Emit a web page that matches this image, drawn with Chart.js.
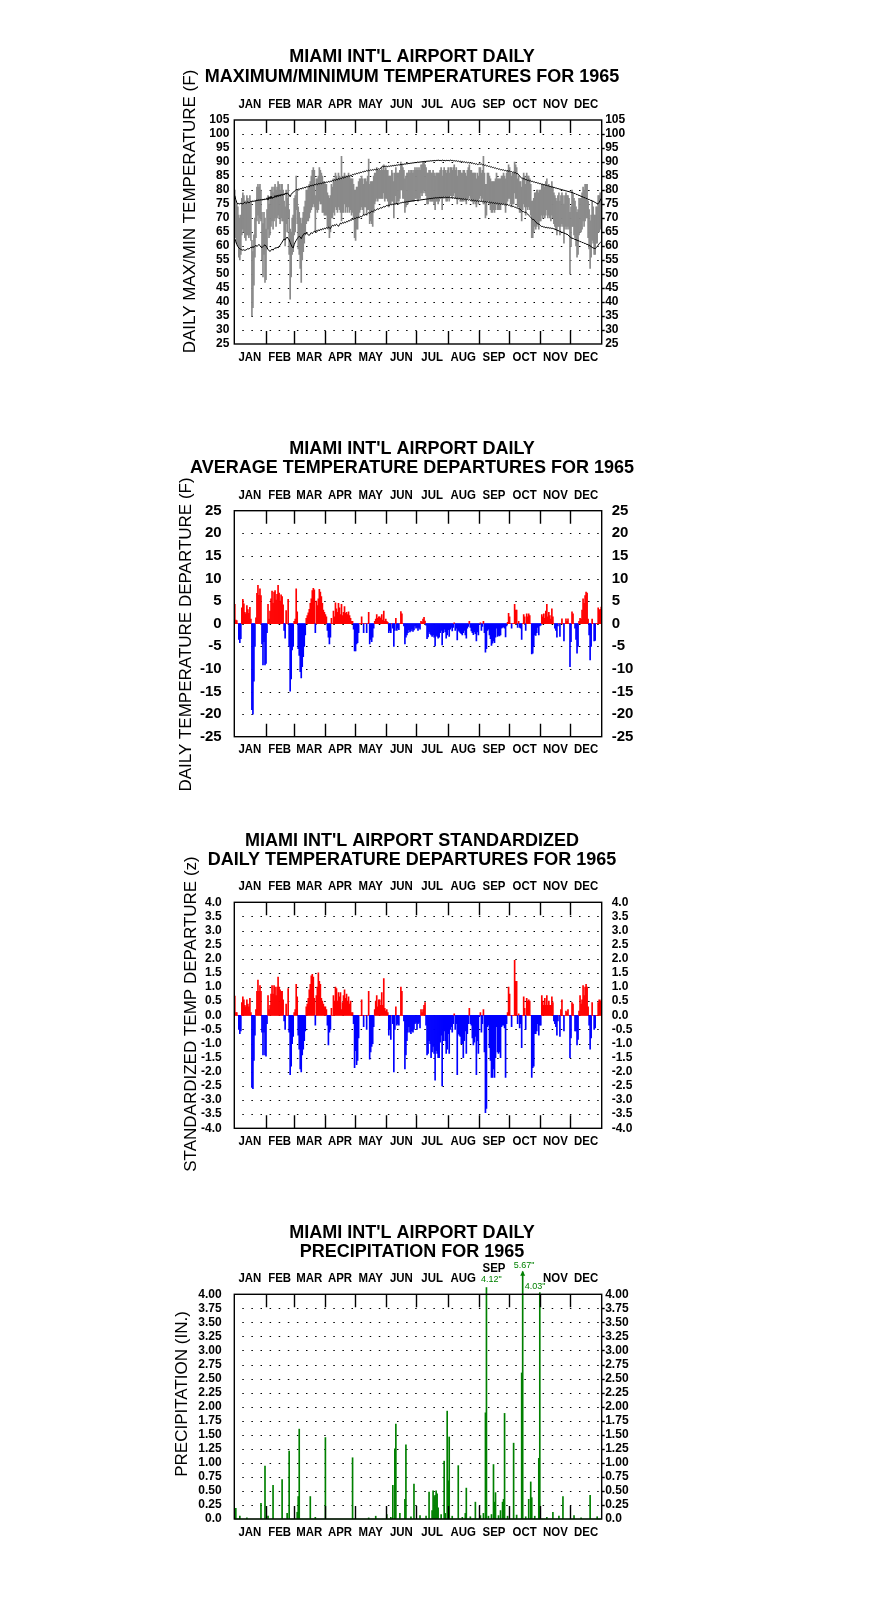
<!DOCTYPE html>
<html lang="en">
<head>
<meta charset="UTF-8">
<title>Miami Int'l Airport 1965</title>
<script src="https://cdn.jsdelivr.net/npm/chart.js"></script>
<style>
  body { margin: 0; background: #fff; }
  canvas { position: absolute; left: 0; }
</style>
</head>
<body>
<canvas id="c1" width="876" height="400" style="top:0px"></canvas>
<canvas id="c2" width="876" height="400" style="top:400px"></canvas>
<canvas id="c3" width="876" height="400" style="top:800px"></canvas>
<canvas id="c4" width="876" height="406" style="top:1200px"></canvas>

<script>
// ---- categories ----
const MONTHS = ['JAN','FEB','MAR','APR','MAY','JUN','JUL','AUG','SEP','OCT','NOV','DEC'];
const MONTH_START = [0,31,59,90,120,151,181,212,243,273,304,334,365];

// ---- daily max / min (F), one line per month ----
const tMax = [
  80,76,75,74,71,70,71,77,79,78,76,76,78,77,76,78,76,62,58,64,70,76,81,82,81,82,80,72,68,72,70,
  66,73,78,75,77,80,81,79,81,82,80,81,83,82,80,82,82,80,76,74,80,77,82,73,66,65,70,71,
  77,78,85,80,74,72,70,68,70,72,74,76,80,80,81,82,83,85,87,88,87,78,84,84,85,88,87,86,85,83,83,
  82,82,79,78,77,78,82,81,84,83,86,85,84,86,85,84,92,84,85,86,85,85,85,86,85,84,84,84,82,80,
  80,81,81,83,84,84,85,84,82,84,84,83,85,91,82,83,83,83,85,86,86,88,87,87,87,87,88,87,89,87,88,
  87,87,85,85,85,87,86,83,86,88,86,86,86,87,90,89,88,87,84,85,86,86,87,86,87,87,86,87,88,87,
  88,87,88,87,89,89,90,90,89,88,86,86,87,87,86,86,87,86,85,86,86,86,86,87,88,85,87,88,87,86,87,
  88,86,88,88,87,88,89,87,88,85,87,87,87,86,86,87,87,86,85,87,88,89,87,87,86,86,86,86,84,86,85,
  88,88,86,87,92,86,82,82,86,86,85,84,83,83,83,83,84,86,84,84,84,84,85,85,86,85,84,86,87,89,
  88,86,85,86,86,90,89,88,84,85,83,83,81,84,86,85,82,86,85,85,84,82,76,76,77,79,79,80,80,79,80,
  80,82,82,82,81,83,84,81,82,81,81,83,81,79,78,77,76,78,79,76,78,79,78,75,78,79,78,78,77,72,
  74,80,79,77,76,74,72,73,77,77,77,79,81,80,82,82,82,76,73,69,71,76,74,71,71,74,74,78,78,79,79
];
const tMin = [
  68,63,61,60,56,55,57,64,66,65,63,62,64,64,63,64,62,35,38,46,56,63,69,71,68,70,69,55,49,57,47,
  48,59,66,63,64,67,69,66,69,70,67,70,71,70,68,70,69,69,62,60,68,65,70,57,41,49,57,58,
  64,65,73,68,59,57,52,47,55,58,61,64,68,69,69,70,72,73,74,75,74,65,73,72,73,76,75,75,72,72,71,
  71,71,67,66,63,65,70,70,72,71,74,73,72,74,73,72,69,72,72,75,72,74,72,74,72,73,71,72,70,63,
  62,66,66,70,72,73,74,73,71,74,74,71,73,73,68,69,68,67,72,75,76,77,76,77,77,77,77,77,79,76,77,
  77,76,74,75,75,76,76,70,75,78,75,76,76,77,80,80,77,77,72,74,75,75,76,76,76,76,76,76,77,77,
  77,76,77,77,79,78,79,80,79,78,75,75,77,76,76,76,76,75,73,76,76,75,76,77,77,73,77,78,77,76,76,
  77,76,78,78,77,78,79,77,77,75,77,77,76,76,76,76,77,76,75,77,77,78,77,76,76,75,76,75,74,76,75,
  77,78,76,77,75,75,70,71,76,76,75,73,72,72,73,72,73,75,73,73,73,73,75,75,75,75,72,75,76,77,
  77,75,74,75,75,79,77,77,74,74,72,72,69,73,75,74,71,74,73,74,73,71,63,63,65,67,66,67,68,66,69,
  69,71,70,71,70,71,73,70,71,70,69,71,70,68,67,66,64,67,67,64,67,68,67,61,66,67,66,67,66,50,
  60,67,67,64,63,60,56,57,64,65,65,66,69,67,69,70,70,63,59,52,56,62,61,57,57,61,61,65,65,66,67
];

// ---- normal max / min (F) ----
const normMax = [
  78,76.5,75.5,75,75.2,75,75.3,75.1,75,75.4,75.6,75.2,75.5,75.8,75.4,75.6,76,75.7,76.2,75.8,76.3,76,76.5,76.1,76.6,76.2,76.7,76.3,76.8,76.4,76.9,
  76.5,77.2,76.4,77.6,76.8,77.8,76.9,77.5,77.2,78,77.4,78.2,77.6,78.3,77.8,78.5,78,78.6,78.2,78.9,78.5,79,78.6,78.2,77.6,78.4,78.9,79.2,
  79.4,79.8,80.2,80,80.4,80.1,80.6,80.3,80.8,80.5,81,80.7,81.2,81,81.4,81.1,81.6,81.4,81.8,81.5,82,81.8,82.2,81.9,82.3,82.1,82.5,82.2,82.6,82.4,82.8,
  82.5,82.9,82.7,83.1,82.8,83.2,83,83.5,83.2,83.7,83.4,83.9,83.6,84.1,83.8,84.3,84,84.5,84.2,84.7,84.5,84.9,84.7,85.1,84.9,85.3,85.2,85.6,85.4,85.8,
  85.6,86,85.8,86.2,86,86.4,86.2,86.6,86.4,86.8,86.6,87,86.8,87.1,86.9,87.2,87,87.3,87.1,87.4,87.2,87.5,87.3,87.6,87.4,87.8,88.3,88.5,88.2,88.6,88.4,
  88.5,88.3,88.6,88.4,88.7,88.5,88.8,88.6,88.9,88.7,89,88.8,89.1,88.9,89.2,89,89.3,89.1,89.4,89.2,89.5,89.3,89.6,89.4,89.7,89.5,89.8,89.6,89.9,89.7,
  89.9,90,89.8,90.1,89.9,90.2,90,90.3,90.1,90.3,90.2,90.4,90.2,90.5,90.3,90.5,90.4,90.6,90.4,90.6,90.5,90.7,90.5,90.6,90.4,90.7,90.5,90.6,90.4,90.6,90.5,
  90.6,90.4,90.7,90.5,90.6,90.4,90.5,90.3,90.5,90.2,90.4,90.1,90.3,90,90.2,89.9,90.1,89.8,90,89.7,89.9,89.6,89.8,89.5,89.7,89.4,89.5,89.2,89.4,89.1,89.2,
  89.3,89.2,89.3,89,89.1,88.8,88.9,88.6,88.7,88.4,88.5,88.2,88.3,88,88.1,87.8,87.9,87.6,87.7,87.4,87.5,87.2,87.3,87.1,87.2,86.9,87,86.8,86.9,86.7,
  86.8,86.5,86.6,86.3,86.4,86.1,86.2,85.8,85.9,85.4,85,84.6,84.2,84.3,83.9,84,83.6,83.7,83.4,83.5,83.2,83.3,83,83.1,82.8,82.9,82.6,82.7,82.4,82.5,82.2,
  82.3,82,82.1,81.8,81.9,81.6,81.7,81.4,81.5,81.2,81.3,81,81.1,80.8,80.9,80.6,80.7,80.4,80.5,80.2,80.3,80,80.1,79.8,79.9,79.6,79.7,79.4,79.5,79.2,
  79.3,79,79.1,78.7,78.8,78.4,78.5,78.1,78.2,77.8,77.9,77.5,77.6,77.2,77.3,76.9,77,76.6,76.7,76.3,76.4,76,76.1,75.7,75.6,75.3,75.2,75.1,75.6,76.3,77
];
const normMin = [
  62.7,61.5,60.5,59.8,59.3,59,58.8,58.6,58.5,58.7,58.4,58.6,58.8,59.1,58.9,59.2,59.6,59.3,59.8,59.5,59.9,60.3,59.8,60.2,60.6,60.1,59.6,59.4,59.8,60.2,60.4,
  60,59.4,58.8,58.3,58.1,58.4,58.9,58.5,59,59.4,59.1,59.6,59.3,59.8,60.3,60.8,61.4,62,62.5,62.2,62.8,63.2,62.7,62.2,61.3,60.4,59.6,59.3,
  60.5,61.4,62,62.6,63.1,63.5,63.2,62.6,63.4,64,64.5,64.2,64.7,64.3,64,63.8,64.3,64.8,64.4,64.9,65.3,65,65.5,65.2,65.8,65.4,66,65.7,66.2,65.9,66.4,
  66.1,66.6,66.3,66.8,66.5,66.2,66.9,67.4,67.1,67.6,67.3,67.8,67.5,67,67.6,68.2,67.9,68.4,68.1,68.6,68.3,68.8,68.6,69.1,68.9,69.4,69.2,69.7,69.5,70,
  69.8,70.2,70,70.4,70.2,70.6,70.4,70.9,71.2,71,71.4,71.2,71.6,71.9,71.7,72.1,72.4,72.2,72.6,72.9,72.7,73.1,73.3,73.1,73.5,73.7,73.5,73.9,74.1,73.9,74.3,
  74.5,74.3,74.7,74.5,74.9,74.7,75,74.8,75.1,75,75.3,75.1,75.4,75.2,75.5,75.4,75.7,75.5,75.8,75.6,75.9,75.7,76,75.8,76.1,76,76.2,76.1,76.3,76.2,
  76.4,76.2,76.5,76.3,76.6,76.4,76.7,76.5,76.8,76.6,76.9,76.7,77,76.8,77.1,76.9,77.2,77,77.3,77.1,77.3,77.1,77.4,77.2,77.4,77.2,77.5,77.3,77.5,77.3,77.4,
  77.3,77.5,77.2,77.4,77.1,77.3,77,77.2,76.9,77.1,76.8,77,76.8,76.9,76.7,76.9,76.6,76.8,76.5,76.7,76.4,76.6,76.3,76.5,76.2,76.4,76.1,76.3,76,76.2,75.9,
  76.1,75.9,76,75.8,76,75.7,75.9,75.6,75.8,75.5,75.7,75.4,75.6,75.3,75.5,75.2,75.4,75.1,75.3,75,75.2,74.9,75.1,74.8,75,74.7,74.9,74.6,74.8,74.5,
  74.6,74.3,74.4,74.1,74.2,73.8,73.9,73.5,73.6,73.2,73.3,72.9,72.6,72.2,72.3,72,72.1,71.7,71.4,71,70.6,70.2,69.8,69.4,69.5,69,68.6,68.2,67.8,67.9,67.5,
  67.2,66.9,67,66.7,66.8,66.5,66.7,66.4,66.6,66.3,66.5,66.2,66.4,66,66.1,65.7,65.8,65.4,65.5,65.1,65.2,64.8,64.9,64.5,64.6,64.2,64.3,63.9,63.6,63.3,
  63,62.7,62.8,62.4,62.5,62.1,62.2,61.8,61.9,61.5,61.6,61.2,61.3,60.9,61,60.6,60.7,60.3,60.4,60,59.8,59.5,59.3,59.2,59,59.4,59.8,60.3,60.8,61.2,61.6
];

// ---- daily average temperature departure (F) ----
const departF = [
  4.3,0.8,0.7,0,-3.5,-4.2,-3.3,3.5,5.4,4.4,2.5,2.2,4,3.1,2.3,3.6,1,-19,-20,-12.7,-5,1.3,6.7,8.5,6.3,7.7,6.2,-4.5,-9.1,-4,-9.1,
  -8.8,-2,4.3,1,2.8,5.5,7.2,4.5,7,7.3,5.2,6.5,8.5,6.8,5,6.4,6,4.2,-1.5,-3.2,2.9,0,5.4,-5,-14.9,-12.2,-5.8,-5,
  0.5,1,7.7,2.6,-5.5,-7,-10.6,-12,-9.5,-7.3,-5,-2.5,1.2,1.8,2.4,3.2,4.5,5.5,7.3,7.8,7.5,-2,5,4,5.5,7.6,7,6,4.5,3,2.5,
  2,1.5,-1.5,-3,-4.5,-3,1.2,0,2.8,1.5,4.6,3.3,2.5,4.5,3.5,2,4.3,1.8,2.5,3.8,2.3,2.5,2,2.6,1.8,1.2,0.5,0.5,-1.2,-6,
  -6,-4.5,-4.2,-2,0,0,1.5,0,-2,0,0,-2,0,2.5,-4.5,-3.5,-4,-3,-1,0.5,1,2,1.2,1.5,1.5,1.2,2,0.8,2.8,0.5,1,
  0.5,0.3,-2,-1.5,-2,0,-1,-5,-1.5,1.2,-1.5,-1,-1.3,0,2.7,2.2,0,-0.5,-4.5,-3,-2.5,-2,-1.3,-1.8,-1.6,-1.2,-1.7,-1.4,-0.5,-1,
  -0.8,-1.5,-0.8,-1.2,0.5,0.3,1,1.4,0.6,-0.3,-3.3,-2.9,-1.8,-2.2,-2.5,-2.8,-2.5,-3,-4.9,-2.6,-2.8,-3.2,-3,-2,-1.5,-4.7,-2,-1.2,-1.8,-3.2,-2.5,
  -1.3,-2.8,-1.2,-0.8,-1.6,-0.8,0.2,-1.5,-1,-3.6,-1.5,-1.7,-2,-2.2,-2.5,-2,-1.5,-2.5,-3.2,-1,-0.6,0.5,-0.8,-1.6,-2,-2.4,-1.8,-2.2,-3.8,-1.8,-2.5,
  -0.2,0.2,-1.5,-0.6,0.5,-2,-6.3,-5.5,-1.5,-1.2,-2.5,-3.3,-4.8,-4.3,-3.8,-4.2,-3,-1,-2.8,-2.6,-2.7,-2.5,-1,-0.8,-0.7,-1,-2.9,-0.5,0.3,2.3,
  1.5,0,-1,0,0,4.3,3,3,-0.8,0.5,-0.8,-1,-3.5,0,2,1.5,-1.5,2.2,1.5,2.2,1.8,0,-6.7,-6.5,-5,-2.5,-2.6,-2,-0.8,-2.5,-0.5,
  -0.3,2,1.5,2.2,1.2,2.8,4.3,1.5,2.5,1.8,1,3.3,1.5,0,-1,-1.5,-3,-0.5,0,-2.8,0,1.1,0,-3.8,0,1.1,0.5,1.1,0,-9.5,
  -4,2.6,2.2,0,-1,-3.5,-6.5,-5,0.5,1.2,1,3,5.5,4.5,6.2,7,6.8,1,-2.5,-8,-5,1,0,-3.8,-3.7,0,0,3.5,3,3.2,3.7
];

// ---- standardized departure (z) ----
const departZ = [
  0.68,0.1,0.1,0,-0.5,-0.65,-0.55,0.45,0.65,0.55,0.35,0.3,0.55,0.4,0.3,0.6,0.1,-2.55,-2.6,-1.6,-0.7,0.2,0.85,1.25,0.85,1.05,0.85,-0.6,-1.4,-0.6,-1.4,
  -1.45,-0.3,0.7,0.2,0.35,0.75,1.05,0.75,1.05,1,0.7,1,1.35,1,0.9,0.85,0.85,0.55,-0.2,-0.5,0.4,0,0.95,-0.6,-2.1,-1.8,-1,-0.75,
  0.1,0.2,1.1,0.65,-0.7,-1.2,-1.9,-2,-1.4,-1.2,-0.9,-0.55,0.3,0.4,0.6,0.9,1.1,1.4,1.45,1.35,0.6,-0.35,0.7,1,1.5,1.2,1.1,0.6,0.5,0.4,0.3,
  0.3,0.2,-0.35,-1.05,-0.6,-0.5,0.25,0,0.7,0.5,1,0.95,0.5,0.8,0.65,0.8,0.2,0.45,0.7,0.9,0.6,0.75,0.5,0.65,0.4,0.5,0.1,0.1,-0.3,-1.85,
  -1.25,-1.75,-1.6,-0.8,0,0,0.55,0,-0.4,0,0,-0.5,0,0.85,-1.55,-1.3,-1.1,-1,-0.4,0.2,0.5,0.7,0.3,0.55,0.55,0.35,0.8,0.35,1.3,0.25,0.15,
  0.2,0.1,-0.7,-0.5,-0.85,0,-0.3,-2,-0.5,0.3,-0.35,-0.3,-0.35,0,1,0.85,0,-0.2,-1.9,-1.4,-0.9,-0.6,-0.4,-0.6,-0.65,-0.55,-0.6,-0.5,-0.3,-0.25,
  -0.5,-0.3,-0.25,-0.45,0.2,0.1,0.2,0.35,0.45,-0.35,-1.4,-1.35,-0.9,-1,-1.5,-1.3,-1.1,-1.35,-2.3,-1.25,-1.35,-1.5,-1.5,-0.95,-0.7,-2.5,-0.9,-0.55,-0.9,-1.35,-1.2,
  -0.65,-1.35,-0.5,-0.4,-0.6,-0.3,0.05,-0.5,-0.3,-2.1,-0.65,-0.7,-0.75,-1,-1,-1.5,-0.9,-0.55,-1.35,-0.65,-0.3,0.25,-0.3,-0.35,-0.8,-1.05,-0.95,-0.75,-2.1,-0.9,-1.35,
  -0.05,0.1,-0.6,-0.3,0.2,-1.3,-3.45,-3.3,-0.4,-0.35,-1.15,-1.6,-2.2,-2.2,-1.9,-2.2,-1.5,-0.4,-1.3,-1.35,-1.3,-1.5,-0.4,-0.35,-0.35,-0.45,-2.2,-0.3,0.1,1,
  0.75,0,-0.4,0,0,1.95,1.2,1.2,-0.3,0.05,-0.45,-0.3,-1.15,0,0.65,0.25,-0.5,0.6,0.5,0.55,0.5,0,-2.2,-1.85,-1.8,-0.65,-0.65,-0.55,-0.3,-0.7,-0.35,
  -0.35,0.7,0.5,0.35,0.6,0.35,0.7,0.35,0.5,0.35,0.35,0.65,0.45,-0.2,-0.3,-0.4,-0.7,-0.2,0,-0.75,0.2,0.55,0,-0.55,0,0.15,0.1,0.2,0,-1.5,
  -0.8,0.45,0.4,0,-0.55,-0.55,-1.05,-0.85,0.15,0.7,0.4,0.55,1.05,0.7,1,1.1,1,0.3,-0.35,-1.2,-0.8,0.45,0,-0.5,-0.45,0,0,0.45,0.55,0.5,0.55
];

// ---- precipitation (in.), rain days only; day index 0 = Jan 1 ----
const rainDay = [1,5,12,26,30,33,38,47,52,54,62,63,64,75,80,90,117,133,140,151,155,157,159,160,164,169,170,175,178,184,
  190,193,196,197,198,199,200,201,202,205,208,209,211,212,213,216,222,226,229,230,234,239,244,247,249,250,252,255,257,258,
  259,262,264,266,267,268,271,277,280,285,286,289,292,294,295,298,302,303,310,316,322,326,337,344,353,360];
const rainIn = [0.19,0.05,0.02,0.28,0.94,0.05,0.6,0.7,0.1,1.21,0.12,0.4,1.6,0.4,0.03,1.45,1.09,0.02,0.05,0.08,0.03,0.6,1.25,1.69,0.1,0.35,1.32,0.04,0.62,0.06,
  0.05,0.48,0.15,0.5,0.4,0.42,0.5,0.45,0.2,0.08,1.03,0.1,1.92,0.68,1.46,0.05,0.95,0.03,0.1,0.55,0.04,0.3,0.06,0.1,1.89,4.12,0.05,0.08,0.97,0.3,
  0.47,0.06,0.15,0.3,0.35,1.88,0.05,1.35,0.07,2.6,5.67,0.04,0.35,0.66,0.38,0.05,1.08,4.03,0.03,0.12,0.05,0.4,0.06,0.02,0.42,0.04];

// ---- tick labels ----
const ticksMaxMin = [105,100,95,90,85,80,75,70,65,60,55,50,45,40,35,30,25];
const ticksDepart = [25,20,15,10,5,0,-5,-10,-15,-20,-25];
const ticksZ = [4,3.5,3,2.5,2,1.5,1,0.5,0,-0.5,-1,-1.5,-2,-2.5,-3,-3.5,-4];
const ticksZLabels = ['4.0','3.5','3.0','2.5','2.0','1.5','1.0','0.5','0.0','-0.5','-1.0','-1.5','-2.0','-2.5','-3.0','-3.5','-4.0'];
const ticksRain = [4,3.75,3.5,3.25,3,2.75,2.5,2.25,2,1.75,1.5,1.25,1,0.75,0.5,0.25,0];
const ticksRainLabels = ['4.00','3.75','3.50','3.25','3.00','2.75','2.50','2.25','2.00','1.75','1.50','1.25','1.00','0.75','0.50','0.25','0.0'];

// ---------------------------------------------------------------
const FONT = '"Liberation Sans", Arial, Helvetica, sans-serif';
const days = Array.from({length: 365}, (_, i) => i + 1);
const RAIN_CAP = 4.4;
const rain = new Array(365).fill(0);
rainDay.forEach((d, i) => { rain[d] = rainIn[i]; });

function makeDecor(cfg) {
  return {
    id: 'decor',
    beforeDatasetsDraw(chart) {
      const {ctx, chartArea: a} = chart;
      const y = chart.scales.y;
      ctx.save();
      ctx.strokeStyle = '#000';
      ctx.lineWidth = 1;
      ctx.setLineDash([1.5, 7.6]);
      cfg.ticks.slice(1, -1).forEach(v => {
        const py = Math.round(y.getPixelForValue(v)) + 0.5;
        ctx.beginPath();
        ctx.moveTo(a.left + 8, py);
        ctx.lineTo(a.right - 1, py);
        ctx.stroke();
      });
      ctx.restore();
    },
    afterDraw(chart) {
      const {ctx, chartArea: a} = chart;
      const x = chart.scales.x, y = chart.scales.y;
      const bx = k => k <= 0 ? a.left : k >= 365 ? a.right
        : (x.getPixelForValue(k - 1) + x.getPixelForValue(k)) / 2;
      ctx.save();
      ctx.strokeStyle = '#000';
      ctx.fillStyle = '#000';
      ctx.lineWidth = 1.4;
      ctx.strokeRect(a.left, a.top, a.right - a.left, a.bottom - a.top);

      // month ticks top and bottom
      for (let m = 1; m < 12; m++) {
        const px = Math.round(bx(MONTH_START[m])) + 0.5;
        ctx.beginPath();
        ctx.moveTo(px, a.top); ctx.lineTo(px, a.top + 13);
        ctx.moveTo(px, a.bottom); ctx.lineTo(px, a.bottom - 13);
        ctx.stroke();
      }

      // month names
      ctx.font = 'bold 13px ' + FONT;
      ctx.textAlign = 'center';
      ctx.textBaseline = 'middle';
      for (let m = 0; m < 12; m++) {
        const cx = (bx(MONTH_START[m]) + bx(MONTH_START[m + 1])) / 2;
        const spots = [a.bottom + 13];
        if (!(cfg.skipTop || []).includes(m)) spots.push(a.top - 15.5 - ((cfg.liftTop || {})[m] || 0));
        spots.forEach(cy => {
          ctx.save();
          ctx.translate(cx, cy);
          ctx.scale(0.88, 1);
          ctx.fillText(MONTHS[m], 0, 0);
          ctx.restore();
        });
      }

      // value labels both sides
      ctx.font = cfg.tickFont;
      cfg.ticks.forEach((v, i) => {
        const py = y.getPixelForValue(v);
        const label = cfg.labels ? cfg.labels[i] : String(v);
        ctx.textAlign = 'right';
        ctx.fillText(label, a.left - cfg.leftGap, py);
        ctx.textAlign = 'left';
        ctx.fillText(label, a.right + cfg.rightGap, py);
        if (cfg.rightDash && i > 0 && i < cfg.ticks.length - 1) {
          ctx.beginPath();
          ctx.moveTo(a.right, Math.round(py) + 0.5);
          ctx.lineTo(a.right + 3, Math.round(py) + 0.5);
          ctx.stroke();
        }
      });

      // titles
      ctx.font = 'bold 18px ' + FONT;
      ctx.textAlign = 'center';
      cfg.title.forEach((t, i) => ctx.fillText(t, 412, cfg.titleY[i]));

      // y-axis title
      ctx.font = '17px ' + FONT;
      ctx.translate(cfg.yTitleX, cfg.yTitleY);
      ctx.rotate(-Math.PI / 2);
      ctx.fillText(cfg.yTitle, 0, 0);
      ctx.restore();
    }
  };
}

function baseOptions(pad, yMin, yMax) {
  return {
    responsive: false,
    animation: false,
    events: [],
    layout: { padding: pad },
    plugins: { legend: { display: false }, tooltip: { enabled: false } },
    scales: {
      x: { display: false },
      y: { display: false, min: yMin, max: yMax }
    }
  };
}

// Panel 1: daily max/min with normals
new Chart(document.getElementById('c1'), {
  type: 'bar',
  data: {
    labels: days,
    datasets: [
      { type: 'line', data: normMax, borderColor: '#000', borderWidth: 1, pointRadius: 0, tension: 0 },
      { type: 'line', data: normMin, borderColor: '#000', borderWidth: 1, pointRadius: 0, tension: 0 },
      { data: tMax.map((v, i) => [tMin[i], v]), backgroundColor: '#8a8a8a', borderWidth: 0,
        barPercentage: 1, categoryPercentage: 1 }
    ]
  },
  options: baseOptions({ left: 234.3, right: 274.3, top: 120, bottom: 56 }, 25, 105),
  plugins: [makeDecor({
    ticks: ticksMaxMin, tickFont: 'bold 12px ' + FONT, leftGap: 5, rightGap: 3.5, rightDash: true,
    title: ["MIAMI INT'L AIRPORT DAILY", 'MAXIMUM/MINIMUM TEMPERATURES FOR 1965'], titleY: [56.7, 76.7],
    yTitle: 'DAILY MAX/MIN TEMPERATURE (F)', yTitleX: 190, yTitleY: 211.5
  })]
});

// Panel 2: departures (F)
new Chart(document.getElementById('c2'), {
  type: 'bar',
  data: {
    labels: days,
    datasets: [{ data: departF, backgroundColor: departF.map(v => v >= 0 ? '#ff0000' : '#0000ff'),
      borderWidth: 0, barPercentage: 1, categoryPercentage: 1 }]
  },
  options: baseOptions({ left: 234.3, right: 274.3, top: 110.7, bottom: 63.3 }, -25, 25),
  plugins: [makeDecor({
    ticks: ticksDepart, tickFont: 'bold 15px ' + FONT, leftGap: 12.6, rightGap: 10,
    title: ["MIAMI INT'L AIRPORT DAILY", 'AVERAGE TEMPERATURE DEPARTURES FOR 1965'], titleY: [49, 68.3],
    yTitle: 'DAILY TEMPERATURE DEPARTURE (F)', yTitleX: 186.7, yTitleY: 234.5
  })]
});

// Panel 3: standardized departures
new Chart(document.getElementById('c3'), {
  type: 'bar',
  data: {
    labels: days,
    datasets: [{ data: departZ, backgroundColor: departZ.map(v => v >= 0 ? '#ff0000' : '#0000ff'),
      borderWidth: 0, barPercentage: 1, categoryPercentage: 1 }]
  },
  options: baseOptions({ left: 234.3, right: 274.3, top: 102.3, bottom: 71.7 }, -4, 4),
  plugins: [makeDecor({
    ticks: ticksZ, labels: ticksZLabels, tickFont: 'bold 12px ' + FONT, leftGap: 12.6, rightGap: 10,
    title: ["MIAMI INT'L AIRPORT STANDARDIZED", 'DAILY TEMPERATURE DEPARTURES FOR 1965'], titleY: [40.7, 60],
    yTitle: 'STANDARDIZED TEMP DEPARTURE (z)', yTitleX: 191.7, yTitleY: 214
  })]
});

// Panel 4: precipitation
const rainNotes = {
  id: 'rainNotes',
  afterDatasetsDraw(chart) {
    const {ctx} = chart;
    const x = chart.scales.x, y = chart.scales.y;
    // label placement per big-rain day: [dx, label y]
    const place = { 250: [5, 80], 286: [1.5, 65.7], 303: [-4.6, 86.7] };
    ctx.save();
    ctx.fillStyle = '#008000';
    ctx.font = '9px ' + FONT;
    ctx.textAlign = 'center';
    ctx.textBaseline = 'middle';
    rain.forEach((v, d) => {
      if (v <= 4) return;
      const px = x.getPixelForValue(d);
      if (v > RAIN_CAP) {
        const top = y.getPixelForValue(RAIN_CAP);
        ctx.beginPath();
        ctx.moveTo(px, top - 1);
        ctx.lineTo(px - 2.5, top + 4);
        ctx.lineTo(px + 2.5, top + 4);
        ctx.closePath();
        ctx.fill();
      }
      const p = place[d] || [0, y.getPixelForValue(Math.min(v, RAIN_CAP)) - 8];
      ctx.fillText(v.toFixed(2) + '"', px + p[0], p[1]);
    });
    ctx.restore();
  }
};

new Chart(document.getElementById('c4'), {
  type: 'bar',
  data: {
    labels: days,
    datasets: [{ data: rain.map(v => Math.min(v, RAIN_CAP)), backgroundColor: '#008000',
      borderWidth: 0, barPercentage: 1, categoryPercentage: 1, clip: false }]
  },
  options: baseOptions({ left: 234.3, right: 274.3, top: 94.3, bottom: 87 }, 0, 4),
  plugins: [makeDecor({
    ticks: ticksRain, labels: ticksRainLabels, tickFont: 'bold 12px ' + FONT, leftGap: 12.6, rightGap: 3.5, rightDash: true,
    title: ["MIAMI INT'L AIRPORT DAILY", 'PRECIPITATION FOR 1965'], titleY: [33.3, 52.3],
    yTitle: 'PRECIPITATION (IN.)', yTitleX: 182.7, yTitleY: 194,
    skipTop: [9], liftTop: { 8: 10 }
  }), rainNotes]
});
</script>
</body>
</html>
